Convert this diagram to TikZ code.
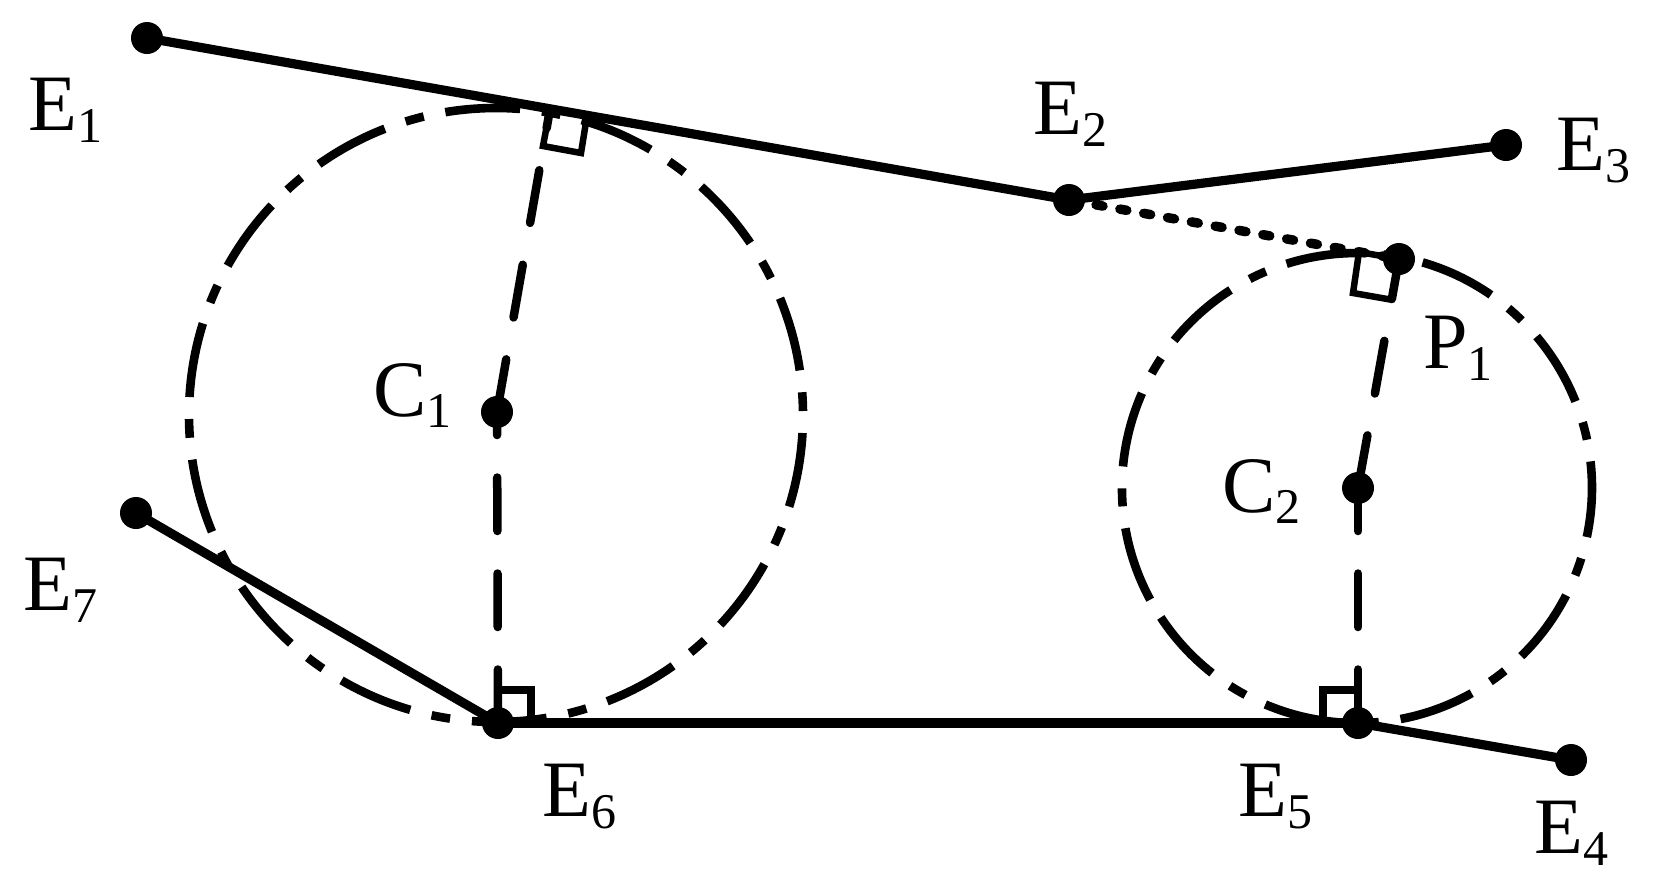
\documentclass[tikz,border=0pt]{standalone}
\usepackage{fontspec}
\setmainfont{Liberation Serif}
\newcommand{\sublab}[3][12pt]{#2\lower#1\hbox{\fontsize{50}{50}\selectfont #3}}
\tikzset{
  dotpt/.style={circle, fill=black, minimum size=32pt, inner sep=0pt},
  lab/.style={anchor=base west, inner sep=0pt, font=\fontsize{80}{80}\selectfont},
  solidline/.style={line width=9.2pt},
  circdash/.style={line width=8.6pt},
  raddash/.style={line width=8.5pt, line cap=round, dash pattern=on 53.5pt off 42.5pt},
  dotline/.style={line width=9.5pt, line cap=round, dash pattern=on 7pt off 17.2pt, dash phase=20.9pt},
  sqmark/.style={line width=6.5pt, line join=miter}
}
\begin{document}
\begin{tikzpicture}[x=1pt, y=-1pt]
\useasboundingbox (0,0) rectangle (1660,892);
% Points
\node[dotpt] (E1) at (147,38) {};
\node[dotpt] (E2) at (1069,200) {};
\node[dotpt] (E3) at (1506,145) {};
\node[dotpt] (E4) at (1571,760) {};
\node[dotpt] (E5) at (1358,723) {};
\node[dotpt] (E6) at (498,723) {};
\node[dotpt] (E7) at (136,513) {};
\node[dotpt] (C1) at (497,412) {};
\node[dotpt] (C2) at (1358,488) {};
\node[dotpt] (P1) at (1399,259) {};
\coordinate (F1) at (550,109);
% Cercles
\draw[circdash, dash pattern=on 75pt off 22pt on 18.8pt off 22pt, dash phase=93pt] (496,415) circle (307pt);
\draw[circdash, dash pattern=on 76pt off 22pt on 18pt off 22pt] (1160.8,617.4) arc[start angle=213.4, delta angle=360, radius=235pt];
% Rayons
\draw[raddash] (C1.center) -- (F1);
\draw[raddash] (E6.center) -- (C1.center);
\draw[raddash] (C2.center) -- (P1.center);
\draw[raddash] (E5.center) -- (C2.center);
% Angles droits
\draw[sqmark] (F1) -- (543,146) -- (581,153) -- (587,116);
\draw[sqmark] (P1.center) -- (1359,252) -- (1353,293) -- (1393,300);
\draw[sqmark, line width=8.5pt] (498,690) -- (531,690) -- (531,723);
\draw[sqmark, line width=8.5pt] (1358,690) -- (1323,690) -- (1323,723);
% Trajet
\draw[solidline] (E1.center) -- (E2.center);
\draw[solidline] (E2.center) -- (E3.center);
\draw[solidline] (E4.center) -- (E5.center);
\draw[solidline] (E5.center) -- (E6.center);
\draw[solidline] (E6.center) -- (E7.center);
\draw[dotline] (E2.center) -- (P1.center);
% Noms
\node[lab] (labE1) at (28,130) {\sublab{E}{1}};
\node[lab] (labE2) at (1033,134) {\sublab{E}{2}};
\node[lab] (labE3) at (1556,170) {\sublab{E}{3}};
\node[lab] (labE4) at (1534,853) {\sublab{E}{4}};
\node[lab] (labE5) at (1238,816) {\sublab{E}{5}};
\node[lab] (labE6) at (542,816) {\sublab{E}{6}};
\node[lab] (labE7) at (23,610) {\sublab{E}{7}};
\node[lab] (labC1) at (373,416) {\sublab[11pt]{C}{1}};
\node[lab] (labC2) at (1222,512) {\sublab[11pt]{C}{2}};
\node[lab] (labP1) at (1423,368) {\sublab{P}{1}};
\end{tikzpicture}
\end{document}
